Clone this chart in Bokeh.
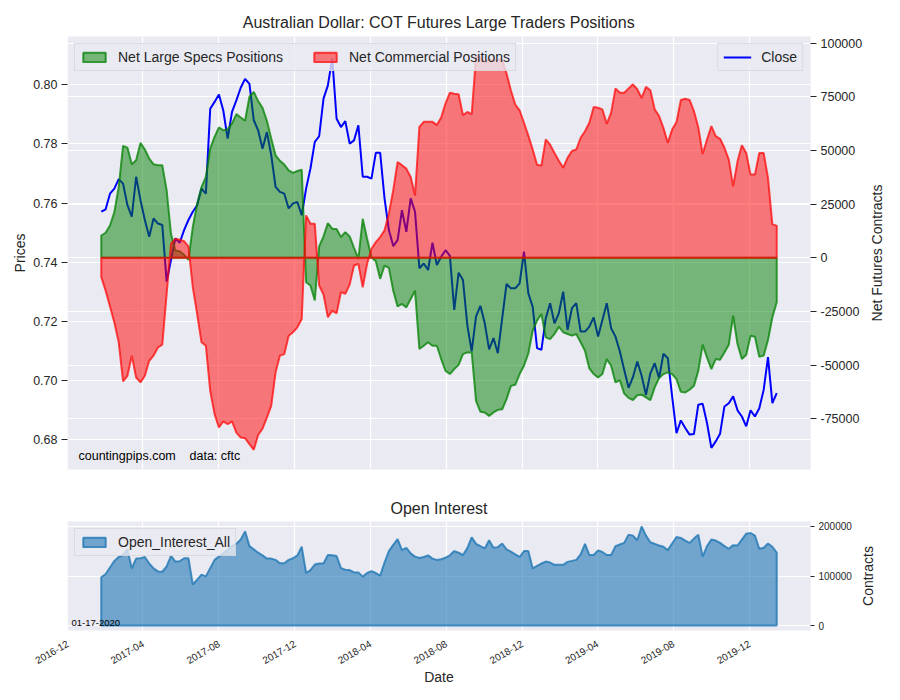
import math

import numpy as np
import pandas as pd
from bokeh.embed import file_html
from bokeh.layouts import column, row
from bokeh.models import (DatetimeTickFormatter, FixedTicker, Grid, Label, Legend,
                          LegendItem, LinearAxis, NumeralTickFormatter, Range1d, Title)
from bokeh.plotting import figure
from bokeh.resources import INLINE

FONT = "Liberation Sans"
INK = "#262626"
BG = "#EAEAF2"

# weekly values (first week 2017-01-24)
close = [
    0.7571, 0.7579, 0.7632, 0.7649, 0.7681, 0.7666, 0.7593, 0.7554, 0.7689, 0.7610,
    0.7543, 0.7486, 0.7548, 0.7531, 0.7526, 0.7335, 0.7408, 0.7481, 0.7466, 0.7509,
    0.7543, 0.7571, 0.7593, 0.7649, 0.7632, 0.7919, 0.7942, 0.7967, 0.7913, 0.7818,
    0.7908, 0.7947, 0.7990, 0.8020, 0.8003, 0.7880, 0.7846, 0.7784, 0.7840, 0.7762,
    0.7655, 0.7638, 0.7632, 0.7582, 0.7599, 0.7604, 0.7559, 0.7649, 0.7717, 0.7807,
    0.7826, 0.7953, 0.7998, 0.8090, 0.7885, 0.7857, 0.7877, 0.7801, 0.7812, 0.7863,
    0.7689, 0.7689, 0.7683, 0.7770, 0.7770, 0.7616, 0.7509, 0.7455, 0.7475, 0.7576,
    0.7503, 0.7616, 0.7571, 0.7380, 0.7396, 0.7374, 0.7466, 0.7391, 0.7419, 0.7441,
    0.7422, 0.7239, 0.7365, 0.7340, 0.7188, 0.7099, 0.7217, 0.7253, 0.7194, 0.7106,
    0.7144, 0.7093, 0.7211, 0.7327, 0.7312, 0.7312, 0.7329, 0.7436, 0.7295, 0.7250,
    0.7110, 0.7104, 0.7211, 0.7262, 0.7194, 0.7228, 0.7301, 0.7172, 0.7245, 0.7262,
    0.7166, 0.7166, 0.7183, 0.7214, 0.7149, 0.7205, 0.7262, 0.7177, 0.7149, 0.7099,
    0.7037, 0.6976, 0.7012, 0.7065, 0.7017, 0.6952, 0.7025, 0.7059, 0.7009, 0.7091,
    0.7076, 0.6947, 0.6823, 0.6866, 0.6840, 0.6818, 0.6820, 0.6919, 0.6922, 0.6857,
    0.6773, 0.6795, 0.6821, 0.6913, 0.6924, 0.6947, 0.6900, 0.6879, 0.6846, 0.6900,
    0.6879, 0.6907, 0.6969, 0.7080, 0.6924, 0.6958,
]

net_specs = [
    10400, 11700, 15100, 21300, 33000, 52200, 51400, 43600, 45500, 53600,
    50500, 46300, 43600, 43200, 43200, 31500, 11200, 3400, 3100, 1400,
    -900, 14300, 25200, 33000, 37700, 51000, 56400, 60800, 59500, 60000,
    62600, 67000, 65400, 63900, 75100, 77400, 73100, 70000, 63900, 55600,
    47800, 45200, 43500, 40800, 39600, 40500, 41100, -11400, -12900, -19900,
    5300, 10000, 16200, 13600, 13400, 9700, 12000, 10000, 4700, -500,
    18200, 8900, 300, -1600, -9800, -3600, -4700, -15300, -22700, -21500,
    -23100, -19200, -15300, -42500, -41000, -39400, -41000, -41000, -47200, -52700,
    -54200, -51900, -49900, -44900, -44100, -44100, -66700, -71800, -72100, -73700,
    -72100, -70900, -70600, -65900, -59700, -59200, -54200, -50300, -44600, -34000,
    -29300, -26200, -37100, -37900, -35500, -32100, -34700, -35500, -36300, -35500,
    -39400, -43300, -51600, -54200, -55800, -54200, -47200, -50300, -58100, -57000,
    -63300, -65300, -66300, -64100, -63800, -65100, -66400, -60400, -56100, -54200,
    -53400, -54200, -56600, -62500, -62800, -61500, -59700, -52700, -40500, -46400,
    -51900, -47200, -47500, -44100, -40500, -27000, -40200, -47200, -45200, -36300,
    -36800, -46100, -45600, -38300, -27700, -20700,
]

net_commercial = [
    -9000, -15300, -22700, -30100, -39400, -57600, -55000, -45600, -55800, -58100,
    -55000, -48000, -45600, -41800, -40500, -16800, 6500, 8900, 8400, 7800,
    5300, -13700, -26200, -39400, -41000, -62000, -72900, -79100, -76300, -77600,
    -76300, -81500, -83800, -84100, -86900, -89500, -82600, -79700, -74500, -69000,
    -53400, -45600, -44900, -36300, -34700, -32400, -28500, 19800, 15900, 15900,
    -12900, -17100, -27700, -24600, -25900, -16000, -16800, -12500, -3600, -2800,
    -13700, -2800, 4200, 7300, 9700, 12800, 20600, 31500, 44700, 43200,
    41600, 37700, 29100, 61100, 63400, 63400, 63400, 61900, 65400, 72000,
    77000, 76500, 76300, 66500, 68000, 67000, 94000, 93400, 91000, 92700,
    91500, 92500, 92200, 86000, 78000, 71500, 68800, 63000, 57000, 50500,
    43400, 43000, 55200, 52800, 48900, 45300, 42000, 46600, 49800, 50500,
    56000, 59000, 63000, 70300, 70000, 69200, 62500, 67700, 79000, 77000,
    77000, 79000, 80900, 78600, 74500, 79700, 78100, 69200, 66100, 60600,
    53600, 59800, 63300, 73600, 74200, 73600, 68400, 60900, 48400, 55200,
    61400, 56700, 55500, 51300, 45800, 33300, 45000, 52500, 48900, 38800,
    38800, 48900, 48900, 37200, 15600, 15000,
]

open_interest = [
    97400, 104000, 117200, 130500, 138400, 142400, 153700, 115300, 135100, 135800,
    138400, 125200, 115300, 109300, 108600, 119200, 140400, 129100, 129800, 135800,
    135800, 82800, 92700, 102700, 99300, 115900, 132500, 139100, 145700, 153000,
    160300, 164900, 173500, 190100, 160300, 153700, 147000, 141700, 135100, 135100,
    132500, 125800, 125800, 132500, 135800, 141700, 159000, 106000, 112000, 123200,
    125200, 125200, 142400, 141700, 140400, 115900, 112600, 111900, 107300, 107300,
    98700, 106000, 109900, 106000, 100700, 127200, 150300, 162900, 174200, 152300,
    157000, 145700, 139100, 136400, 138400, 141700, 135100, 132500, 133800, 137100,
    141700, 150300, 147000, 142400, 156300, 178200, 164900, 160300, 155600, 172200,
    157000, 158300, 165600, 153700, 149000, 143700, 138400, 150300, 150300, 115200,
    120500, 125200, 129100, 127200, 122500, 122500, 122500, 128500, 130500, 132500,
    143700, 164900, 142400, 142400, 151700, 148400, 142400, 142400, 160300, 163600,
    166900, 183500, 181500, 172200, 200000, 181500, 168200, 164900, 161600, 159000,
    152300, 165600, 178800, 176800, 171500, 166900, 175500, 183500, 139100, 160300,
    173500, 171500, 166900, 160300, 155000, 162300, 161600, 173500, 185400, 186800,
    181500, 155000, 157000, 165600, 159000, 147000,
]

dates = pd.date_range("2017-01-24", periods=len(close), freq="7D")
date_ticks = pd.date_range("2016-12-01", "2019-12-01", freq="4MS")
price_ticks = [0.68, 0.70, 0.72, 0.74, 0.76, 0.78, 0.80]
net_ticks = [-75000, -50000, -25000, 0, 25000, 50000, 75000, 100000]
oi_ticks = [0, 100000, 200000]

date_ms = [t.value / 1e6 for t in date_ticks]
span = dates[-1] - dates[0]
x_start = dates[0] - span * 0.05
x_end = dates[-1] + span * 0.05
x0 = x_start.value / 1e6


def fill_xy(values):
    # polygon between the series and zero, like fill_between
    xs = np.concatenate([dates.values, dates.values[::-1]])
    ys = np.concatenate([np.asarray(values, dtype=float), np.zeros(len(values))])
    return xs, ys


def style_axis(ax, size="12.5px"):
    ax.axis_line_color = None
    ax.major_tick_line_color = INK
    ax.major_tick_out = 6
    ax.major_tick_in = 0
    ax.minor_tick_line_color = None
    ax.major_label_text_font = FONT
    ax.major_label_text_font_size = size
    ax.major_label_text_color = INK
    ax.major_label_standoff = 4
    ax.axis_label_text_font = FONT
    ax.axis_label_text_font_size = "14px"
    ax.axis_label_text_color = INK
    ax.axis_label_text_font_style = "normal"


def style_legend(leg):
    leg.label_text_font = FONT
    leg.label_text_font_size = "14px"
    leg.label_text_color = INK
    leg.background_fill_color = BG
    leg.background_fill_alpha = 0.8
    leg.border_line_color = "#CCCCCC"
    leg.glyph_width = 28
    leg.glyph_height = 12
    leg.label_standoff = 10
    leg.label_height = 14
    leg.spacing = 28
    leg.padding = 5
    leg.margin = 7


def style_title(p, standoff):
    p.title.align = "center"
    p.title.text_font = FONT
    p.title.text_font_size = "16px"
    p.title.text_font_style = "normal"
    p.title.text_color = INK
    p.title.standoff = standoff


def side_title(text, frame_height, top, bottom, width):
    # thin blank figure carrying a right-hand axis title that reads bottom to top
    s = figure(frame_width=1, frame_height=frame_height, output_backend="svg",
               toolbar_location=None, min_border_left=0, min_border_right=width,
               min_border_top=top, min_border_bottom=bottom,
               background_fill_color=None, outline_line_color=None)
    s.axis.visible = False
    s.grid.visible = False
    s.add_layout(Title(text=text, align="center", text_font=FONT, text_font_size="14px",
                       text_font_style="normal", text_color=INK, standoff=2), "left")
    return s


x_range = Range1d(x_start, x_end)

top = figure(frame_width=743, frame_height=433, x_axis_type="datetime",
             x_range=x_range, y_range=Range1d(0.6700, 0.8163),
             title="Australian Dollar: COT Futures Large Traders Positions",
             output_backend="svg", toolbar_location=None,
             min_border_left=67, min_border_right=55, min_border_top=36,
             min_border_bottom=20, background_fill_color=BG,
             outline_line_color=None)
top.extra_y_ranges = {"net": Range1d(-98700, 103200)}
style_title(top, 11)

close_line = top.line(dates, close, color="blue", line_width=2)

xs, ys = fill_xy(net_specs)
specs_patch = top.patch(xs, ys, y_range_name="net", fill_color="green", fill_alpha=0.5,
                        line_color="green", line_alpha=0.75, line_width=2)
xs, ys = fill_xy(net_commercial)
comm_patch = top.patch(xs, ys, y_range_name="net", fill_color="red", fill_alpha=0.5,
                       line_color="red", line_alpha=0.7, line_width=2)

top.xaxis.visible = False
top.xgrid.ticker = FixedTicker(ticks=date_ms)
top.ygrid.ticker = FixedTicker(ticks=price_ticks)
top.grid.grid_line_color = "white"
top.grid.grid_line_width = 1.2
top.add_layout(Grid(dimension=1, ticker=FixedTicker(ticks=net_ticks), y_range_name="net",
                    grid_line_color="white", grid_line_width=1.2))

top.yaxis.ticker = FixedTicker(ticks=price_ticks)
top.yaxis.formatter = NumeralTickFormatter(format="0.00")
top.yaxis.axis_label = "Prices"
style_axis(top.yaxis[0])
top.yaxis.axis_label_standoff = 2

net_axis = LinearAxis(y_range_name="net", ticker=FixedTicker(ticks=net_ticks),
                      formatter=NumeralTickFormatter(format="0"))
style_axis(net_axis)
top.add_layout(net_axis, "right")

leg_pos = Legend(items=[LegendItem(label="Net Large Specs Positions", renderers=[specs_patch]),
                        LegendItem(label="Net Commercial Positions", renderers=[comm_patch])],
                 location="top_left", orientation="horizontal")
style_legend(leg_pos)
top.add_layout(leg_pos)
leg_close = Legend(items=[LegendItem(label="Close", renderers=[close_line])],
                   location="top_right")
style_legend(leg_close)
top.add_layout(leg_close)

top.add_layout(Label(x=x0, y=0.6700, x_offset=11, y_offset=7, text="countingpips.com",
                     text_font=FONT, text_font_size="12.5px", text_color="black"))
top.add_layout(Label(x=x0, y=0.6700, x_offset=122, y_offset=7, text="data: cftc",
                     text_font=FONT, text_font_size="12.5px", text_color="black"))

# open interest panel
bot = figure(frame_width=743, frame_height=109, x_axis_type="datetime",
             x_range=x_range, y_range=Range1d(-10000, 210000), y_axis_location="right",
             title="Open Interest", output_backend="svg", toolbar_location=None,
             min_border_left=67, min_border_right=46, min_border_top=32,
             min_border_bottom=5, background_fill_color=BG, outline_line_color=None)
style_title(bot, 10)

xs, ys = fill_xy(open_interest)
oi_patch = bot.patch(xs, ys, fill_color="#1f77b4", fill_alpha=0.6,
                     line_color="#1f77b4", line_alpha=0.8, line_width=2)

bot.grid.grid_line_color = "white"
bot.grid.grid_line_width = 1.2
bot.xgrid.ticker = FixedTicker(ticks=date_ms)
bot.ygrid.ticker = FixedTicker(ticks=oi_ticks)

bot.yaxis.ticker = FixedTicker(ticks=oi_ticks)
bot.yaxis.formatter = NumeralTickFormatter(format="0")
style_axis(bot.yaxis[0], "10px")
bot.yaxis.major_tick_out = 4

bot.xaxis.ticker = FixedTicker(ticks=date_ms)
bot.xaxis.formatter = DatetimeTickFormatter(years="%Y-%m", months="%Y-%m", days="%Y-%m")
bot.xaxis.axis_label = "Date"
style_axis(bot.xaxis[0], "10px")
bot.xaxis.major_tick_out = 0
bot.xaxis.major_label_standoff = 12
bot.xaxis.axis_label_standoff = -2
bot.xaxis.major_label_orientation = math.pi / 6

leg_oi = Legend(items=[LegendItem(label="Open_Interest_All", renderers=[oi_patch])],
                location="top_left")
style_legend(leg_oi)
bot.add_layout(leg_oi)

bot.add_layout(Label(x=x0, y=-10000, x_offset=4, y_offset=5, text="01-17-2020",
                     text_font=FONT, text_font_size="9.5px", text_color="black"))

top_side = side_title("Net Futures Contracts", 433, 36, 20, 4)
bot_side = side_title("Contracts", 109, 32, 62, 4)

layout = column(row(top, top_side), row(bot, bot_side))
open("out.html", "w").write(file_html(layout, INLINE))
